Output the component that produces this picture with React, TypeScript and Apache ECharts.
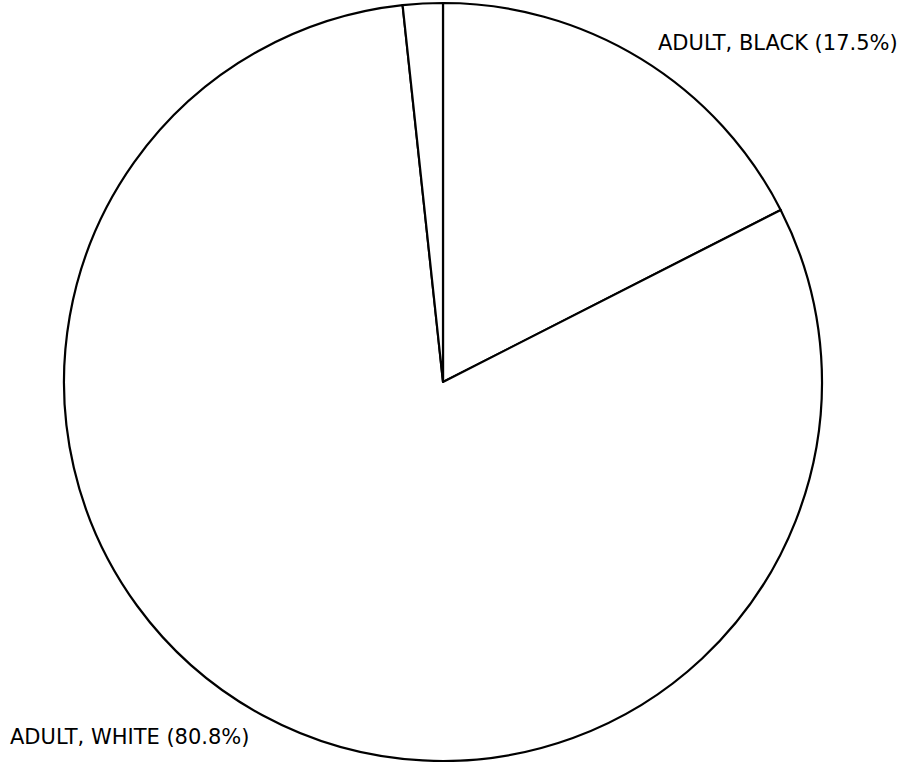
import React, { useEffect, useRef } from "react";
import * as echarts from "echarts";

const categories = ["ADULT, BLACK", "ADULT, WHITE", "OTHER"];
const percents = [17.5, 80.8, 1.7];
const showLabel = [true, true, false];

export default function App() {
  const ref = useRef<HTMLDivElement>(null);
  useEffect(() => {
    document.body.style.margin = "0";
    const chart = echarts.init(ref.current!, undefined, { renderer: "svg" });
    const labelPos: Record<number, { x: number; y: number }> = {
      0: { x: 658, y: 43 },
      1: { x: 10, y: 737 },
    };
    chart.setOption({
      animation: false,
      backgroundColor: "#ffffff",
      series: [
        {
          type: "pie",
          center: [443, 382],
          radius: 379,
          startAngle: 90,
          clockwise: true,
          silent: true,
          itemStyle: { color: "#ffffff", borderColor: "#000000", borderWidth: 2.2 },
          labelLine: { show: false },
          emphasis: { disabled: true },
          label: {
            show: true,
            position: "outside",
            fontFamily: "DejaVu Sans",
            fontSize: 21,
            color: "#000000",
            overflow: "none",
            width: 400,
            formatter: (p: any) => `${p.name} (${p.value.toFixed(1)}%)`,
          },
          labelLayout: (params: any) => {
            const pos = labelPos[params.dataIndex];
            if (!pos) return {};
            return { x: pos.x, y: pos.y, align: "left", verticalAlign: "middle", hideOverlap: false };
          },
          data: categories.map((c, i) => ({
            name: c,
            value: percents[i],
            label: { show: showLabel[i] },
          })),
        },
      ],
    });
    return () => chart.dispose();
  }, []);
  return <div ref={ref} style={{ width: 910, height: 762 }} />;
}
